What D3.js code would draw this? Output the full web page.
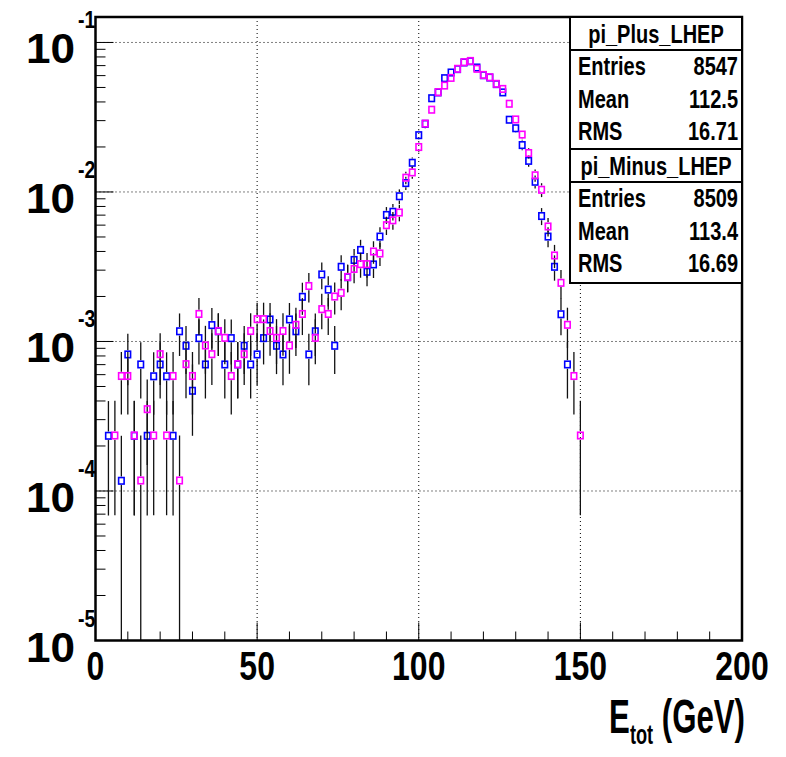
<!DOCTYPE html>
<html lang="en">
<head>
<meta charset="utf-8">
<title>E_tot pi+ / pi- LHEP</title>
<script src="https://cdn.jsdelivr.net/npm/d3@7"></script>
<style>
  body { margin: 0; background: #fff; }
  svg { display: block; }
  text { font-family: "Liberation Sans", Arial, Helvetica, sans-serif; font-weight: bold; fill: #000; }
</style>
</head>
<body>
<script>
// bin centers (GeV), bin width 2
var binCenters = [0,2,4,6,8,10,12,14,16,18,20,22,24,26,28,30,32,34,36,38,40,42,44,46,48,
                  50,52,54,56,58,60,62,64,66,68,70,72,74,76,78,80,82,84,86,88,90,92,94,96,98,
                  100,102,104,106,108,110,112,114,116,118,120,122,124,126,128,130,132,134,136,138,
                  140,142,144,146,148,150];

// counts per bin
var plusCounts = [0,0,2,0,1,7,2,6,2,5,6,5,2,10,8,4,9,6,11,10,6,9,6,8,6,
                  7,9,12,8,7,12,10,17,7,10,24,19,8,27,23,30,35,25,28,43,60,63,80,98,134,
                  205,244,362,396,493,538,567,628,640,581,516,498,450,396,260,228,176,138,100,59,
                  43,27,13,6,0,0];
var minusCounts = [0,0,0,2,5,5,2,1,3,2,7,2,5,1,6,5,13,8,7,10,9,5,6,7,10,
                   12,12,10,9,10,8,11,13,20,9,14,13,17,18,23,26,28,28,34,33,51,55,62,106,115,
                   170,244,302,396,438,493,567,628,640,567,516,498,450,416,331,260,206,155,110,88,
                   50,32,21,11,5,2];

var plusStats = [["Entries", "8547"], ["Mean", "112.5"], ["RMS", "16.71"]];
var minusStats = [["Entries", "8509"], ["Mean", "113.4"], ["RMS", "16.69"]];
var plusEntries = 8547, minusEntries = 8509;

var xTicks = [0, 50, 100, 150, 200];
var yDecades = [-5, -4, -3, -2, -1];

var W = 786, H = 757;
var pLeft = 95.5, pRight = 742, pTop = 17, pBottom = 640.5;

var svg = d3.select("body").append("svg")
    .attr("width", W)
    .attr("height", H);

var x = d3.scaleLinear().domain([0, 200]).range([pLeft, pRight]);
var y = d3.scaleLog().domain([1e-5, 0.148]).range([pBottom, pTop]);

// text helper: squeezed horizontally
function label(parent, tx, ty, str, size, anchor, sx) {
  return parent.append("text")
      .attr("transform", "translate(" + tx + "," + ty + ") scale(" + (sx || 0.8) + ",1)")
      .attr("text-anchor", anchor || "start")
      .style("font-size", size + "px")
      .text(str);
}

// grid (dotted)
var grid = svg.append("g").attr("stroke", "#000").attr("stroke-width", 1).attr("stroke-dasharray", "1,3");
grid.selectAll("line.gx").data(xTicks.slice(1, -1)).enter().append("line")
    .attr("x1", d => x(d)).attr("x2", d => x(d))
    .attr("y1", pTop).attr("y2", pBottom);
grid.selectAll("line.gy").data(yDecades.slice(1)).enter().append("line")
    .attr("y1", d => y(Math.pow(10, d))).attr("y2", d => y(Math.pow(10, d)))
    .attr("x1", pLeft).attr("x2", pRight);

// x axis ticks
var xMinor = d3.range(0, 201, 10);
svg.append("g").selectAll("line").data(xMinor).enter().append("line")
    .attr("x1", d => x(d)).attr("x2", d => x(d))
    .attr("y1", pBottom)
    .attr("y2", d => pBottom - (d % 50 === 0 ? 18 : 9))
    .attr("stroke", "#000").attr("stroke-width", 1);

var xl = svg.append("g");
xTicks.forEach(function(t) { label(xl, x(t), 680, t, 41, "middle", 0.78); });

// y axis ticks (log)
var yMinor = [];
yDecades.forEach(function(p) {
  for (var m = 1; m <= 9; m++) {
    var v = m * Math.pow(10, p);
    if (v <= 0.148) yMinor.push({v: v, major: m === 1});
  }
});
svg.append("g").selectAll("line").data(yMinor).enter().append("line")
    .attr("x1", pLeft).attr("x2", d => pLeft + (d.major ? 18 : 10))
    .attr("y1", d => y(d.v)).attr("y2", d => y(d.v))
    .attr("stroke", "#000").attr("stroke-width", 1);

var yl = svg.append("g");
yDecades.forEach(function(p) {
  var ty = y(Math.pow(10, p));
  label(yl, 75, ty + 21, "10", 42, "end", 1.05);
  label(yl, 78, ty - 14, p, 23, "start", 0.85);
});

// histograms
var markW = 5.5, markH = 6.5;
function drawHist(counts, entries, color) {
  var pts = binCenters.map(function(c, i) {
    return {x: c, n: counts[i], v: counts[i] / entries, e: Math.sqrt(counts[i]) / entries};
  }).filter(d => d.n > 0);
  var g = svg.append("g");
  g.selectAll("line.up").data(pts).enter().append("line")
      .attr("x1", d => x(d.x)).attr("x2", d => x(d.x))
      .attr("y1", d => y(d.v + d.e)).attr("y2", d => Math.max(y(d.v + d.e), y(d.v) - markH / 2 - 1))
      .attr("stroke", "#111").attr("stroke-width", 1.3);
  g.selectAll("line.dn").data(pts).enter().append("line")
      .attr("x1", d => x(d.x)).attr("x2", d => x(d.x))
      .attr("y1", d => y(d.v) + markH / 2 + 1)
      .attr("y2", d => (d.v - d.e) > 1e-5 ? Math.max(y(d.v - d.e), y(d.v) + markH / 2 + 1) : pBottom)
      .attr("stroke", "#111").attr("stroke-width", 1.3);
  g.selectAll("rect").data(pts).enter().append("rect")
      .attr("x", d => x(d.x) - markW / 2).attr("y", d => y(d.v) - markH / 2)
      .attr("width", markW).attr("height", markH)
      .attr("fill", "none").attr("stroke", color).attr("stroke-width", 1.6);
}
drawHist(plusCounts, plusEntries, "#0000ff");
drawHist(minusCounts, minusEntries, "#ff00ff");

// frame
svg.append("rect")
    .attr("x", pLeft).attr("y", pTop).attr("width", pRight - pLeft).attr("height", pBottom - pTop)
    .attr("fill", "none").attr("stroke", "#000").attr("stroke-width", 2.5);

// stats boxes
function statsBox(y0, h, title, rows) {
  var g = svg.append("g");
  var bx = 570, bw = pRight - bx;
  g.append("rect").attr("x", bx).attr("y", y0).attr("width", bw).attr("height", h)
      .attr("fill", "#fff").attr("stroke", "#000").attr("stroke-width", 2);
  g.append("line").attr("x1", bx).attr("x2", pRight).attr("y1", y0 + 33).attr("y2", y0 + 33)
      .attr("stroke", "#000").attr("stroke-width", 2);
  label(g, bx + bw / 2, y0 + 26, title, 25, "middle");
  rows.forEach(function(r, i) {
    label(g, bx + 8, y0 + 58 + i * 32.5, r[0], 25, "start");
    label(g, pRight - 4, y0 + 58 + i * 32.5, r[1], 25, "end");
  });
}
statsBox(17, 132, "pi_Plus_LHEP", plusStats);
statsBox(149, 134, "pi_Minus_LHEP", minusStats);

// x title
var xt = svg.append("text")
    .attr("transform", "translate(" + (pRight + 3) + ",733) scale(0.65,1)")
    .attr("text-anchor", "end")
    .style("font-size", "48px");
xt.append("tspan").text("E");
xt.append("tspan").attr("dy", 11).style("font-size", "28px").text("tot");
xt.append("tspan").attr("dy", -11).text(" (GeV)");
</script>
</body>
</html>
